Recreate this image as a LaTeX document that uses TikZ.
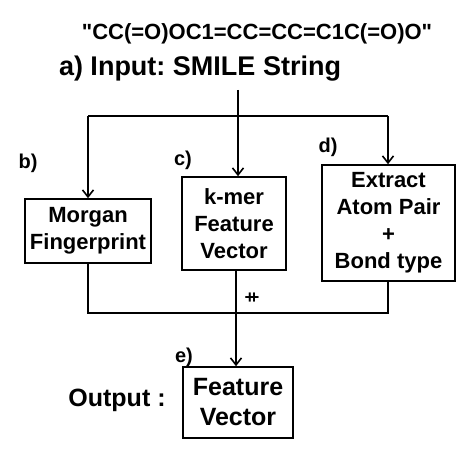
\documentclass[tikz,border=0pt]{standalone}
\usepackage{fontspec}
\setmainfont{Liberation Sans}
\newfontfamily\smfont{Liberation Sans}
\usetikzlibrary{arrows.meta}
\frenchspacing
\begin{document}
\begin{tikzpicture}[x=1pt,y=-1pt,
  every node/.style={font=\bfseries},
  box/.style={draw,line width=1.6pt,align=center,inner sep=0pt,
    font=\fontsize{22}{27}\selectfont\bfseries},
  lbl/.style={font=\fontsize{20}{24}\selectfont\bfseries,inner sep=0pt},
  conn/.style={line width=1.6pt},
  arr/.style={line width=1.6pt,-{Straight Barb[length=7pt,width=11pt,line width=1.6pt]}}
]
\useasboundingbox (0,0) rectangle (470,454);
\node[inner sep=0pt,anchor=base,font=\smfont\fontsize{22}{26}\selectfont\bfseries] (smiles) at (257,40) {"CC(=O)OC1=CC=CC=C1C(=O)O"};
\node[inner sep=0pt,anchor=base,font=\fontsize{27}{32}\selectfont\bfseries] (title) at (200,76) {a) Input: SMILE String};
\coordinate (top) at (238,90);
\coordinate (jt) at (238,116);
\coordinate (jl) at (88,116);
\coordinate (jr) at (388,116);
\node[box,minimum width=126pt,minimum height=64pt] (b) at (88,231) {Morgan\\Fingerprint};
\node[box,minimum width=104pt,minimum height=93pt] (c) at (234,223.5) {k-mer\\Feature\\Vector};
\node[box,minimum width=133pt,minimum height=116pt] (d) at (388.5,223) {Extract\\Atom Pair\\+\\Bond type};
\node[box,minimum width=110pt,minimum height=71pt,font=\fontsize{25}{30}\selectfont\bfseries] (e) at (238,402.5) {Feature\\Vector};
\node[lbl] (lb) at (28,163) {b)};
\node[lbl] (lc) at (183,160) {c)};
\node[lbl] (ld) at (328,147) {d)};
\node[lbl] (le) at (184,357) {e)};
\node[inner sep=0pt,font=\fontsize{25}{30}\selectfont\bfseries] (out) at (117,400) {Output :};
\node[inner sep=0pt,font=\fontsize{18}{20}\selectfont\bfseries] (pp) at (252,298) {+\kern-6.3pt+};
\coordinate (bl) at (88,313);
\coordinate (br) at (388,313);
\coordinate (bc) at (236,313);
\draw[line width=2.6pt] (top) -- (jt);
\draw[conn] (jl) -- (jr);
\draw[arr] (jt) -- (jt |- c.north);
\draw[arr] (jl) -- (b.north);
\draw[arr] (jr) -- (jr |- d.north);
\draw[conn] (b.south) -- (bl) -- (br) -- (br |- d.south);
\draw[conn] (bc |- c.south) -- (bc);
\draw[line width=2.6pt,-{Straight Barb[length=7pt,width=11pt,line width=1.6pt]}] (bc) -- (bc |- e.north);
\end{tikzpicture}
\end{document}
